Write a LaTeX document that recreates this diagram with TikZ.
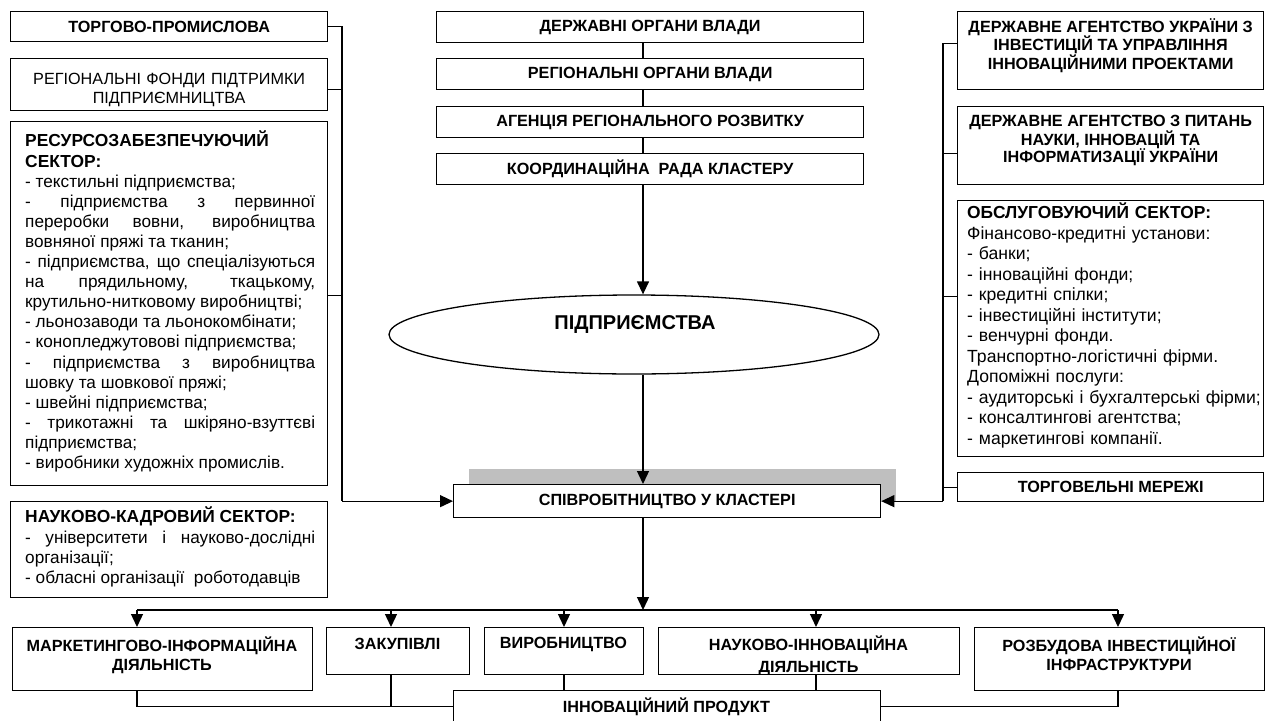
\documentclass[tikz,border=0pt]{standalone}
\usepackage{fontspec}
\setmainfont{Liberation Sans}
\usetikzlibrary{arrows.meta,shapes.geometric}
\definecolor{shadowgray}{RGB}{191,191,191}
\newcommand\fst{\fontsize{16.2}{17.5}\selectfont}
\newcommand\fsh{\fontsize{17.4}{20}\selectfont}
\newcommand\fsr{\fontsize{17.2}{20.1}\selectfont}
\newcommand\fsf{\fontsize{16.2}{19}\selectfont}
\newcommand\fss{\fontsize{17.6}{20.5}\selectfont}
\newcommand\fse{\fontsize{20}{22}\selectfont}
\newcommand\mkbox[5]{\node[box,anchor=north west,minimum width={(#4-#2)*1pt},minimum height={(#5-#3)*1pt}] (#1) at (#2,#3) {};}
\begin{document}
\begin{tikzpicture}[x=1pt,y=-1pt,
  box/.style={draw,line width=1.3pt,fill=white,inner sep=0pt},
  conn/.style={line width=1.3pt},
  arr/.style={line width=1.3pt,-{Triangle[length=13pt,width=12pt]}},
  ttl/.style={font=\bfseries\fst,align=center,inner sep=0pt},
  txt/.style={inner sep=0pt},
  jst/.style={txt,text width=290pt,align=justify,anchor=north west,font=\fsr}]
\useasboundingbox[fill=white] (0,0) rectangle (1266,720);

% ---------- left column
\mkbox{tp}{10}{11}{327}{41}
\mkbox{rf}{10}{58}{327}{110}
\mkbox{rs}{10}{121}{327}{485}
\mkbox{nks}{10}{501}{327}{597}
\node[ttl] (tpt) at (tp.center) {ТОРГОВО-ПРОМИСЛОВА};
\node[txt,font=\fsf,align=center,text width=310pt] (rft) at ([yshift=-5pt]rf.center) {РЕГІОНАЛЬНІ ФОНДИ ПІДТРИМКИ\\ПІДПРИЄМНИЦТВА};
\node[jst] (rst) at (25,131) {\hyphenpenalty=10000 \exhyphenpenalty=10000 \tolerance=10000
{\bfseries\fsh РЕСУРСОЗАБЕЗПЕЧУЮЧИЙ\newline СЕКТОР:}\par
- текстильні підприємства;\par
- підприємства з первинної\linebreak переробки вовни, виробництва\linebreak вовняної пряжі та тканин;\par
- підприємства, що спеціалізуються\linebreak на прядильному, ткацькому,\linebreak крутильно-нитковому виробництві;\par
- льонозаводи та льонокомбінати;\par
- конопледжутовові підприємства;\par
- підприємства з виробництва\linebreak шовку та шовкової пряжі;\par
- швейні підприємства;\par
- трикотажні та шкіряно-взуттєві\linebreak підприємства;\par
- виробники художніх промислів.};
\node[jst] (nkt) at (25,507) {\hyphenpenalty=10000 \exhyphenpenalty=10000 \tolerance=10000
{\bfseries\fsh НАУКОВО-КАДРОВИЙ СЕКТОР:}\par
- університети і науково-дослідні\linebreak організації;\par
- обласні організації\ \ роботодавців};

% ---------- centre column
\mkbox{c1}{436}{11}{863}{42}
\mkbox{c2}{436}{58}{863}{89}
\mkbox{c3}{436}{106}{863}{137}
\mkbox{c4}{436}{153}{863}{184}
\node[ttl] (c1t) at (c1.center) {ДЕРЖАВНІ ОРГАНИ ВЛАДИ};
\node[ttl] (c2t) at (c2.center) {РЕГІОНАЛЬНІ ОРГАНИ ВЛАДИ};
\node[ttl] (c3t) at (c3.center) {АГЕНЦІЯ РЕГІОНАЛЬНОГО РОЗВИТКУ};
\node[ttl] (c4t) at (c4.center) {КООРДИНАЦІЙНА\ \ РАДА КЛАСТЕРУ};
\node[draw,ellipse,line width=1.3pt,minimum width=490pt,minimum height=79pt,inner sep=0pt] (ell) at (634,334.5) {};
\node[txt,font=\bfseries\fse] (ellt) at (635,325) {ПІДПРИЄМСТВА};
\node[fill=shadowgray,inner sep=0pt,anchor=north west,minimum width=427pt,minimum height=33pt] (coopsh) at (469,469) {};
\mkbox{coop}{453}{484}{880}{517}
\node[ttl] (coopt) at (coop.center) {СПІВРОБІТНИЦТВО У КЛАСТЕРІ};

% ---------- right column
\mkbox{r1}{957}{11}{1263}{89}
\mkbox{r2}{957}{106}{1263}{184}
\mkbox{r3}{957}{200}{1263}{456}
\mkbox{r4}{957}{472}{1263}{501}
\node[ttl] (r1t) at ([yshift=5pt]r1.center) {ДЕРЖАВНЕ АГЕНТСТВО УКРАЇНИ З\\ІНВЕСТИЦІЙ ТА УПРАВЛІННЯ\\ІННОВАЦІЙНИМИ ПРОЕКТАМИ};
\node[ttl] (r2t) at ([yshift=5pt]r2.center) {ДЕРЖАВНЕ АГЕНТСТВО З ПИТАНЬ\\НАУКИ, ІННОВАЦІЙ ТА\\ІНФОРМАТИЗАЦІЇ УКРАЇНИ};
\node[txt,font=\fss,align=left,text width=298pt,anchor=north west] (r3t) at (967,203) {{\bfseries\fsh ОБСЛУГОВУЮЧИЙ СЕКТОР:}\\Фінансово-кредитні установи:\\- банки;\\- інноваційні фонди;\\- кредитні спілки;\\- інвестиційні інститути;\\- венчурні фонди.\\Транспортно-логістичні фірми.\\Допоміжні послуги:\\- аудиторські і бухгалтерські фірми;\\- консалтингові агентства;\\- маркетингові компанії.};
\node[ttl] (r4t) at (r4.center) {ТОРГОВЕЛЬНІ МЕРЕЖІ};

% ---------- bottom row
\mkbox{mk}{12}{627}{312}{690}
\mkbox{zk}{326}{627}{469}{674}
\mkbox{vy}{484}{627}{643}{674}
\mkbox{nk}{658}{627}{959}{674}
\mkbox{rz}{974}{627}{1264}{690}
\mkbox{pr}{453}{690}{880}{722}
\node[ttl,anchor=north,font=\bfseries\fontsize{16.2}{19}\selectfont] (mkt) at (162,637) {МАРКЕТИНГОВО-ІНФОРМАЦІЙНА\\ДІЯЛЬНІСТЬ};
\node[ttl,anchor=north] (zkt) at (397.5,638) {ЗАКУПІВЛІ};
\node[ttl,anchor=north] (vyt) at (563.5,637) {ВИРОБНИЦТВО};
\begin{scope}
\clip ([yshift=1pt]nk.south west) rectangle (nk.north east);
\node[ttl,anchor=north,font=\bfseries\fontsize{16.2}{21.5}\selectfont] (nkt) at (808.5,636) {НАУКОВО-ІННОВАЦІЙНА\\ДІЯЛЬНІСТЬ};
\end{scope}
\node[ttl,anchor=north,font=\bfseries\fontsize{16.2}{19}\selectfont] (rzt) at (1119,637) {РОЗБУДОВА ІНВЕСТИЦІЙНОЇ\\ІНФРАСТРУКТУРИ};
\node[ttl] (prt) at (666.5,707) {ІННОВАЦІЙНИЙ ПРОДУКТ};

% ---------- connectors
\coordinate (lx) at (342,0);
\coordinate (rx) at (943,0);
\coordinate (cx) at (643,0);
\draw[conn] (tp.east) -| (lx |- coop.west);
\coordinate (rfp) at ([yshift=-5pt]rf.east);
\draw[conn] (rfp) -- (lx |- rfp);
\coordinate (rsp) at ([yshift=8pt]rs.east);
\draw[conn] (rsp) -- (lx |- rsp);
\draw[arr] (lx |- coop.west) -- (coop.west);

\coordinate (r1p) at ([yshift=7pt]r1.west);
\draw[conn] (r1p) -| (rx |- coop.east);
\coordinate (r2p) at ([yshift=-8pt]r2.west);
\draw[conn] (r2p) -- (rx |- r2p);
\coordinate (r3p) at ([yshift=32pt]r3.west);
\draw[conn] (r3p) -- (rx |- r3p);
\draw[conn] (r4.west) -- (rx |- r4.west);
\draw[arr] (rx |- coop.east) -- (coop.east);

\draw[conn] (cx |- c1.south) -- (cx |- c2.north);
\draw[conn] (cx |- c2.south) -- (cx |- c3.north);
\draw[conn] (cx |- c3.south) -- (cx |- c4.north);
\draw[arr] (cx |- c4.south) -- (cx |- ell.north);
\draw[arr] (cx |- ell.south) -- (cx |- coop.north);

\coordinate (bx1) at (137,610);
\coordinate (bx2) at (391,610);
\coordinate (bx3) at (564,610);
\coordinate (bx4) at (816,610);
\coordinate (bx5) at (1118,610);
\draw[arr] (cx |- coop.south) -- (cx |- bx1);
\draw[conn] (bx1) -- (bx5);
\draw[arr] (bx1) -- (bx1 |- mk.north);
\draw[arr] (bx2) -- (bx2 |- zk.north);
\draw[arr] (bx3) -- (bx3 |- vy.north);
\draw[arr] (bx4) -- (bx4 |- nk.north);
\draw[arr] (bx5) -- (bx5 |- rz.north);
\draw[conn] (bx1 |- mk.south) |- (pr.west);
\draw[conn] (bx2 |- zk.south) -- (bx2 |- pr.west);
\draw[conn] (bx3 |- vy.south) -- (bx3 |- pr.north);
\draw[conn] (bx4 |- nk.south) -- (bx4 |- pr.north);
\draw[conn] (bx5 |- rz.south) |- (pr.east);
\end{tikzpicture}
\end{document}
